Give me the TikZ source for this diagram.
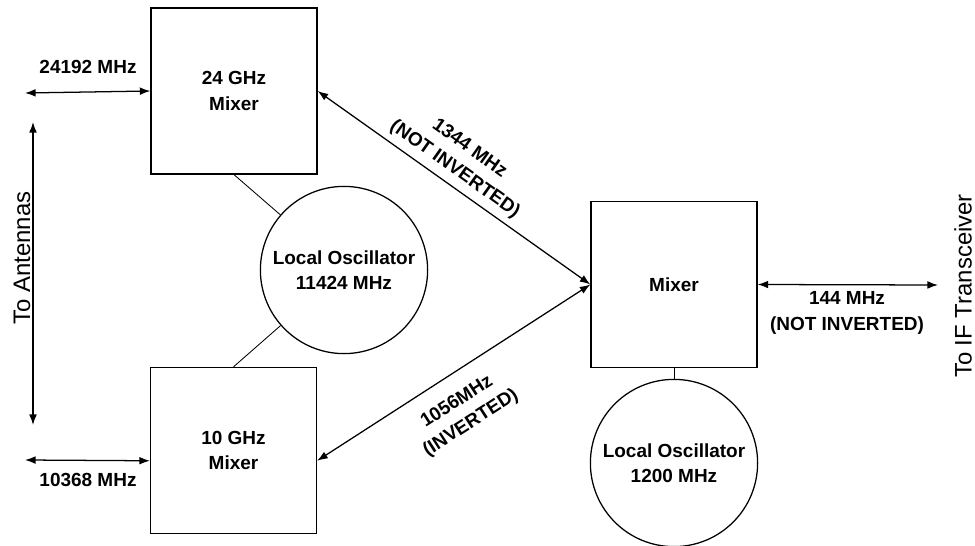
\documentclass[tikz,border=0pt]{standalone}
\usepackage{fontspec}
\setmainfont{Liberation Sans}
\usetikzlibrary{arrows.meta}

\begin{document}
\begin{tikzpicture}[x=0.025cm,y=-0.025cm,
    lbl/.style={font=\fontsize{13.5}{18}\selectfont\bfseries,align=center},
    mixbox/.style={draw,line width=0.9pt,minimum size=4.15cm,lbl},
    osc/.style={draw,circle,line width=0.9pt,minimum size=4.18cm,inner sep=0pt,lbl},
    sig/.style={line width=0.9pt,{Latex[length=7.5pt,width=5.5pt]}-{Latex[length=7.5pt,width=5.5pt]}},
    tie/.style={line width=0.6pt},
    side/.style={font=\fontsize{17}{20}\selectfont,rotate=90}]
    \path[use as bounding box] (0,0) rectangle (975,546);

    % Mixers
    \node[mixbox] (mixA) at (234,91) {24 GHz\\Mixer};
    \node[mixbox] (mixB) at (233.5,450.5) {10 GHz\\Mixer};
    \node[mixbox] (mixIF) at (674,284.5) {Mixer};

    % Local oscillators
    \node[osc] (loA) at (344,270) {Local Oscillator\\11424 MHz};
    \node[osc] (loB) at (674,463) {Local Oscillator\\1200 MHz};
    \draw[tie] (mixA.south) -- (loA);
    \draw[tie] (mixB.north) -- (loA);
    \draw[tie] (mixIF.south) -- (loB);

    % Antenna side
    \coordinate (antA) at (25,93);
    \coordinate (antB) at (25,460);
    \coordinate (antTop) at (33,122);
    \coordinate (antBot) at (33,425);
    \draw[sig] (antA) -- (mixA.west);
    \draw[sig] (antB) -- (mixB.187);
    \draw[sig] (antTop) -- (antBot);
    \node[lbl] (fA) at (88,67) {24192 MHz};
    \node[lbl] (fB) at (88,480) {10368 MHz};
    \node[side] (ant) at (22,258) {To Antennas};

    % IF links
    \draw[sig] (mixA.east) -- node[lbl,sloped,above=1pt,pos=0.47] (ifA)
        {1344 MHz\\(NOT INVERTED)} (mixIF.west);
    \draw[sig] (mixB.-7.5) -- node[lbl,sloped,below=9pt,pos=0.46] (ifB)
        {1056MHz\\(INVERTED)} (mixIF.west);

    % Transceiver side
    \coordinate (ifOut) at (938,285);
    \draw[sig] (mixIF.east) -- (ifOut);
    \node[lbl] (fIF) at (847,313) {144 MHz\\(NOT INVERTED)};
    \node[side] (trx) at (963,286) {To IF Transceiver};
  \end{tikzpicture}
\end{document}
